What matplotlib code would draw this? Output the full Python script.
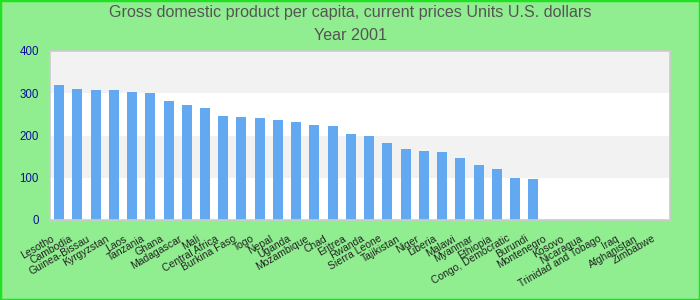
import matplotlib
matplotlib.use("Agg")
import matplotlib.pyplot as plt
from matplotlib.patches import Rectangle
from matplotlib.transforms import ScaledTranslation

countries = ["Lesotho", "Cambodia", "Guinea-Bissau", "Kyrgyzstan", "Laos", "Tanzania",
             "Ghana", "Madagascar", "Mali", "Central Africa", "Burkina Faso", "Togo",
             "Nepal", "Uganda", "Mozambique", "Chad", "Eritrea", "Rwanda", "Sierra Leone",
             "Tajikistan", "Niger", "Liberia", "Malawi", "Myanmar", "Ethiopia",
             "Congo, Democratic", "Burundi", "Montenegro", "Kosovo", "Nicaragua",
             "Trinidad and Tobago", "Iraq", "Afghanistan", "Zimbabwe"]
values = [320, 310, 308, 307, 303, 301, 282, 272, 265, 246, 244, 241, 237, 232, 225,
          222, 203, 199, 182, 168, 163, 161, 147, 130, 121, 99, 97,
          None, None, None, None, None, None, None]
yticks = [0, 100, 200, 300, 400]

plt.rcParams['font.family'] = ['Liberation Sans', 'DejaVu Sans']

fig = plt.figure(figsize=(7, 3), dpi=100, facecolor="#90ee90")
fig.patches.append(Rectangle((0, 0), 1, 1, transform=fig.transFigure, fill=False,
                             edgecolor="#22e022", linewidth=2.5, zorder=10))
ax = fig.add_axes([50/700, 80/300, 620/700, 169/300])
ax.set_facecolor("white")
for lo in [100, 300]:
    ax.axhspan(lo, lo + 100, color="#f2f2f2", zorder=0, lw=0)

xs = [i for i, v in enumerate(values) if v is not None]
vs = [v for v in values if v is not None]
ax.bar(xs, vs, width=0.55, color="#62a9f2", zorder=2)

ax.set_xlim(-0.5, len(countries) - 0.5)
ax.set_ylim(0, 400)
ax.set_yticks(yticks)
ax.set_xticks(range(len(countries)))
ax.tick_params(axis="both", length=0)
ax.tick_params(axis="y", pad=8)
ax.tick_params(axis="x", pad=6)
ax.set_yticklabels([str(t) for t in yticks], color="#10109a", fontsize=8.3)
ax.set_xticklabels(countries, rotation=30, ha="right", va="center", rotation_mode="anchor",
                   fontsize=7.5, color="#222222")
off = ScaledTranslation(-6/100, -9.5/100, fig.dpi_scale_trans)
for lab in ax.get_xticklabels():
    lab.set_transform(lab.get_transform() + off)
for s in ax.spines.values():
    s.set_color("#cccccc")
    s.set_linewidth(1.2)

fig.text(0.5, 1 - 13/300, "Gross domestic product per capita, current prices Units U.S. dollars",
         ha="center", va="center", fontsize=11.6, color="#555555")
fig.text(0.5, 1 - 36/300, "Year 2001", ha="center", va="center", fontsize=11.6, color="#555555")

fig.savefig("out.png", dpi=100, facecolor=fig.get_facecolor())
